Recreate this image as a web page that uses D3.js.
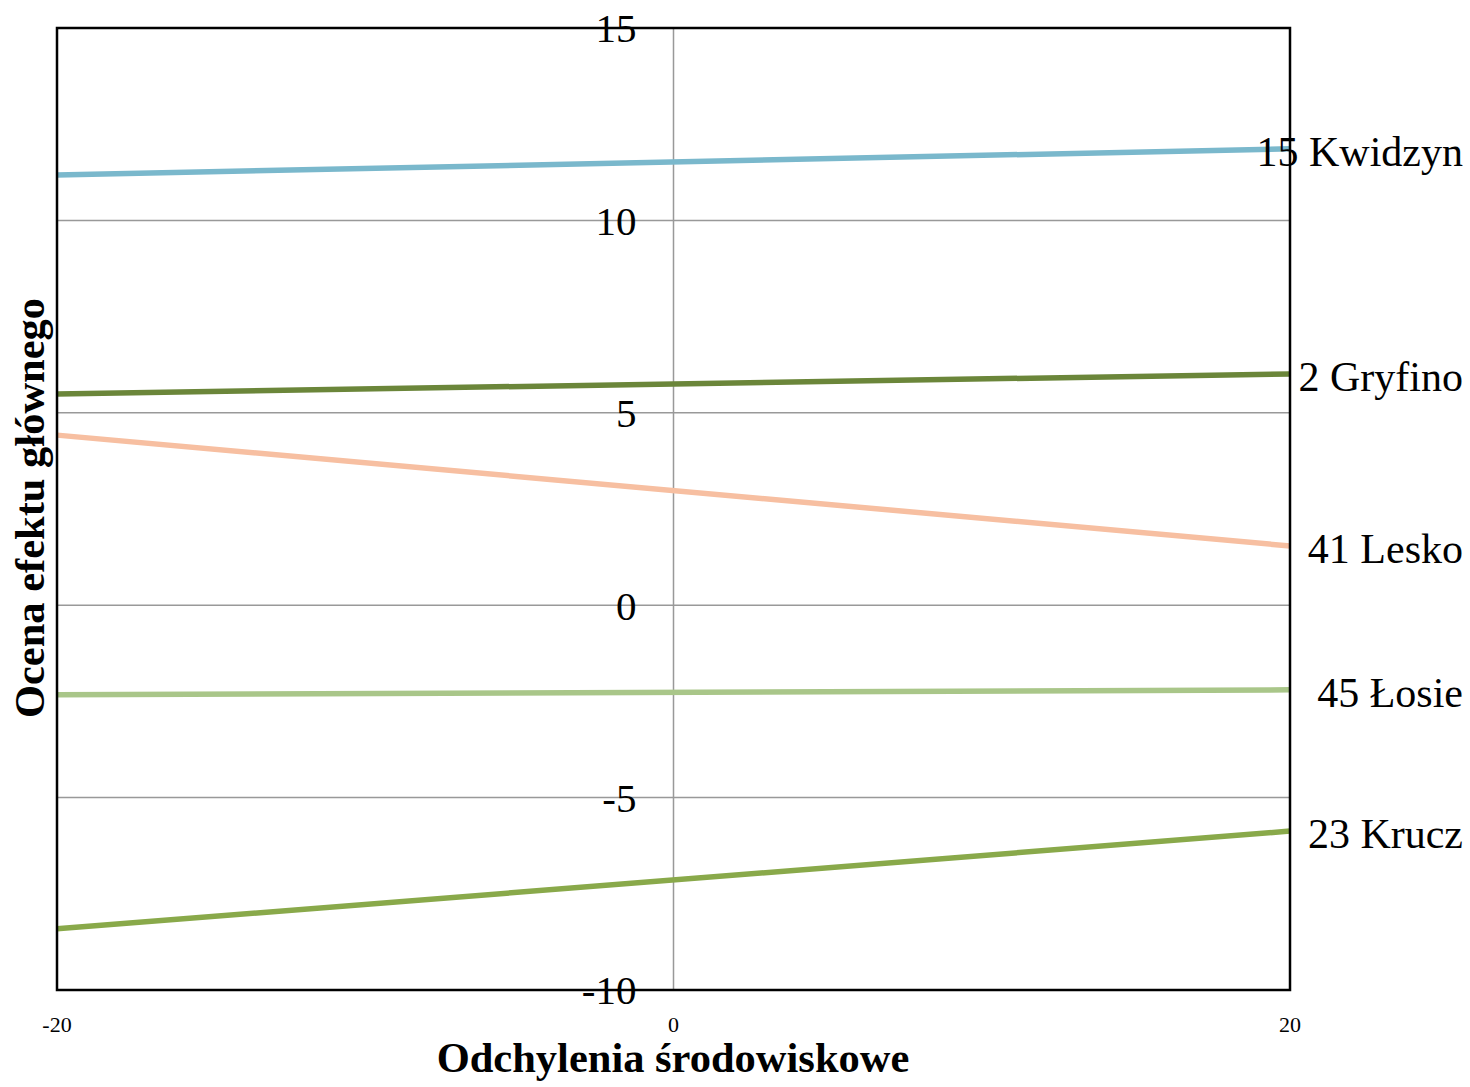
<!DOCTYPE html>
<html><head><meta charset="utf-8">
<script src="https://cdn.jsdelivr.net/npm/d3@7"></script>
<style>body{margin:0;background:#fff}</style>
</head><body>
<svg id="c" width="1470" height="1087"></svg>
<script>
const series = ["15 Kwidzyn","2 Gryfino","41 Lesko","45 Łosie","23 Krucz"];
const xValues = [-20, 20];
const leftValues  = [11.18, 5.49, 4.42, -2.33, -8.41];
const rightValues = [11.86, 6.01, 1.54, -2.20, -5.87];
const colors = ["#7ab8cc","#6b863a","#f7bfa1","#a9c689","#89a94a"];
const yTicks = [15,10,5,0,-5,-10];
const xTicks = [-20,0,20];

const svg = d3.select("#c");
const font = "'Liberation Serif','Times New Roman',serif";
const x = d3.scaleLinear().domain([-20,20]).range([57,1290]);
const y = d3.scaleLinear().domain([-10,15]).range([990,28]);

// gridlines
svg.append("g").selectAll("line").data(yTicks.filter(t=>t>-10&&t<15)).join("line")
  .attr("x1",x(-20)).attr("x2",x(20)).attr("y1",d=>y(d)).attr("y2",d=>y(d))
  .attr("stroke","#999").attr("stroke-width",1.5);
svg.append("line").attr("x1",x(0)).attr("x2",x(0)).attr("y1",y(15)).attr("y2",y(-10))
  .attr("stroke","#999").attr("stroke-width",1.5);

// series lines
const line = d3.line().x(d=>x(d[0])).y(d=>y(d[1]));
series.forEach((s,i)=>{
  svg.append("path").datum([[xValues[0],leftValues[i]],[xValues[1],rightValues[i]]])
    .attr("d",line).attr("fill","none").attr("stroke",colors[i]).attr("stroke-width",5.5);
});

// frame
svg.append("rect").attr("x",x(-20)).attr("y",y(15)).attr("width",x(20)-x(-20)).attr("height",y(-10)-y(15))
  .attr("fill","none").attr("stroke","#000").attr("stroke-width",2.5);

// y tick labels
svg.append("g").selectAll("text").data(yTicks).join("text")
  .attr("x",x(0)-37).attr("y",d=>y(d)).attr("dy","0.35em")
  .attr("text-anchor","end").attr("font-family",font).attr("font-size",41)
  .text(d=>d);

// x tick labels
svg.append("g").selectAll("text").data(xTicks).join("text")
  .attr("x",d=>x(d)).attr("y",1024).attr("dy","0.35em")
  .attr("text-anchor","middle").attr("font-family",font).attr("font-size",22)
  .text(d=>d);

// series labels
series.forEach((s,i)=>{
  svg.append("text").attr("x",1463).attr("y",y(rightValues[i])+2).attr("dy","0.35em")
    .attr("text-anchor","end").attr("font-family",font).attr("font-size",42).text(s);
});

// axis titles
svg.append("text").attr("x",673).attr("y",1072).attr("text-anchor","middle")
  .attr("font-family",font).attr("font-weight","bold").attr("font-size",42.5)
  .text("Odchylenia środowiskowe");
svg.append("text").attr("transform","translate(44,508) rotate(-90)").attr("text-anchor","middle")
  .attr("font-family",font).attr("font-weight","bold").attr("font-size",42.5)
  .text("Ocena efektu głównego");
</script>
</body></html>
